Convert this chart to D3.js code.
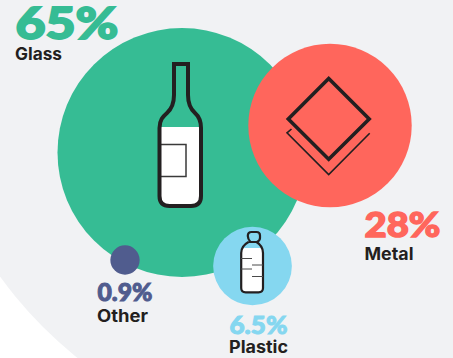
<!DOCTYPE html>
<html>
<head>
<meta charset="utf-8">
<script src="https://cdn.jsdelivr.net/npm/d3@7"></script>
<style>
html,body{margin:0;padding:0;background:#fff}
svg{display:block}
text.value{font-family:Lato,Inter,"Noto Sans",sans-serif}
text.name{font-family:Inter,Lato,"Noto Sans",sans-serif}
</style>
</head>
<body>
<svg id="chart" width="453" height="358"></svg>
<script>
// Recycled packaging shares, drawn as area-proportional bubbles
const materials = ["Glass", "Metal", "Plastic", "Other"];
const shares = [65, 28, 6.5, 0.9];
const shareLabels = ["65%", "28%", "6.5%", "0.9%"];

// Bubble layout and label placement, keyed by material
const layout = {
  Glass:   {x: 182, y: 152.5, color: "#36BC94", vx: 15.5, vy: 39.3,  vw: 103, vs: 44, vt: 1.8, nx: 15,  ny: 59.5, nw: 47},
  Metal:   {x: 330, y: 125.5, color: "#FF665C", vx: 364.5, vy: 237.3, vw: 76, vs: 35, vt: 1.4, nx: 364.5, ny: 260, nw: 49},
  Plastic: {x: 252.5, y: 266, color: "#85D7F0", vx: 229.5, vy: 334, vw: 58,  vs: 25, vt: 1, nx: 229, ny: 353,  nw: 59},
  Other:   {x: 125, y: 260,   color: "#505C8E", vx: 97.5, vy: 301, vw: 55,  vs: 25, vt: 1, nx: 97,  ny: 321.5,  nw: 51}
};
const ink = "#231F20";

const svg = d3.select("#chart");

// Pale backdrop disc, cut by the lower left corner
svg.append("circle").attr("cx", 340).attr("cy", 30).attr("r", 420).attr("fill", "#F1F2F4");

const radius = d3.scaleSqrt().domain([0, 65]).range([0, 124.5]);
const rows = materials.map((name, i) => ({name, share: shares[i], label: shareLabels[i], ...layout[name]}));

svg.append("g").selectAll("circle").data(rows).join("circle")
  .attr("cx", d => d.x).attr("cy", d => d.y)
  .attr("r", d => radius(d.share))
  .attr("fill", d => d.color);

// Wine bottle icon
const glass = svg.append("g").attr("class", "icon-glass");
const bottleOutline = "M159.5 128 C159.5 120 163 116.5 167 113 C172 108.5 174 103 174 95 L174 64 L188 64 L188 95 C188 103 190 108.5 195 113 C199 116.5 201 120 201 128 L201 196 Q201 206 191 206 L169.5 206 Q159.5 206 159.5 196 Z";
glass.append("path")
  .attr("d", "M159.5 127 L201 127 L201 196 Q201 206 191 206 L169.5 206 Q159.5 206 159.5 196 Z")
  .attr("fill", "#fff");
glass.append("rect").attr("x", 160).attr("y", 144.5).attr("width", 26).attr("height", 32)
  .attr("fill", "#fff").attr("stroke", "#3a3a3a").attr("stroke-width", 1.5);
glass.append("path").attr("d", bottleOutline).attr("fill", "none")
  .attr("stroke", ink).attr("stroke-width", 4);

// Stacked sheet icon
const metal = svg.append("g").attr("class", "icon-metal").attr("fill", "none").attr("stroke", ink);
metal.append("path").attr("d", "M328.7 78.5 L369.2 119 L328.7 159.3 L288.3 119 Z")
  .attr("stroke-width", 3.6);
metal.append("path").attr("d", "M291.5 129 L287 132.8 L328.7 174.5 L369.7 133.3")
  .attr("stroke-width", 1.6);

// Water bottle icon
const plastic = svg.append("g").attr("class", "icon-plastic");
plastic.append("path")
  .attr("d", "M241.2 248 L263 248 L263 288 Q263 292.3 258.5 292.3 L245.7 292.3 Q241.2 292.3 241.2 288 Z")
  .attr("fill", "#fff");
plastic.append("path")
  .attr("d", "M250.5 242 Q247.8 239 247.8 236 Q247.8 232 251.5 232 L256.5 232 Q260 232 260 235.5 L260 238 Q260 240.5 257 242 M248.5 242 L256.5 242 Q263 246 263 253 L263 288 Q263 292.3 258.5 292.3 L245.7 292.3 Q241.2 292.3 241.2 288 L241.2 253 Q241.2 246 248.5 242")
  .attr("fill", "none").attr("stroke", ink).attr("stroke-width", 2.2);
plastic.append("g").attr("stroke", "#4a4a4a").attr("stroke-width", 1)
  .selectAll("line").data([[241, 252, 258.5], [252, 263, 265], [241, 252, 269], [252, 263, 276.5]]).join("line")
  .attr("x1", d => d[0]).attr("x2", d => d[1]).attr("y1", d => d[2]).attr("y2", d => d[2]);

// Share values and material names, fitted to their label widths
const labels = svg.append("g");
labels.selectAll("text.value").data(rows).join("text").attr("class", "value")
  .attr("x", d => d.vx).attr("y", d => d.vy)
  .attr("font-size", d => d.vs).attr("font-weight", 900)
  .attr("textLength", d => d.vw).attr("lengthAdjust", "spacingAndGlyphs")
  .attr("fill", d => d.color).attr("stroke", d => d.color).attr("stroke-width", d => d.vt)
  .text(d => d.label);
labels.selectAll("text.name").data(rows).join("text").attr("class", "name")
  .attr("x", d => d.nx).attr("y", d => d.ny)
  .attr("font-size", 17).attr("font-weight", 700)
  .attr("textLength", d => d.nw).attr("lengthAdjust", "spacingAndGlyphs")
  .attr("fill", ink)
  .text(d => d.name);
</script>
</body>
</html>
